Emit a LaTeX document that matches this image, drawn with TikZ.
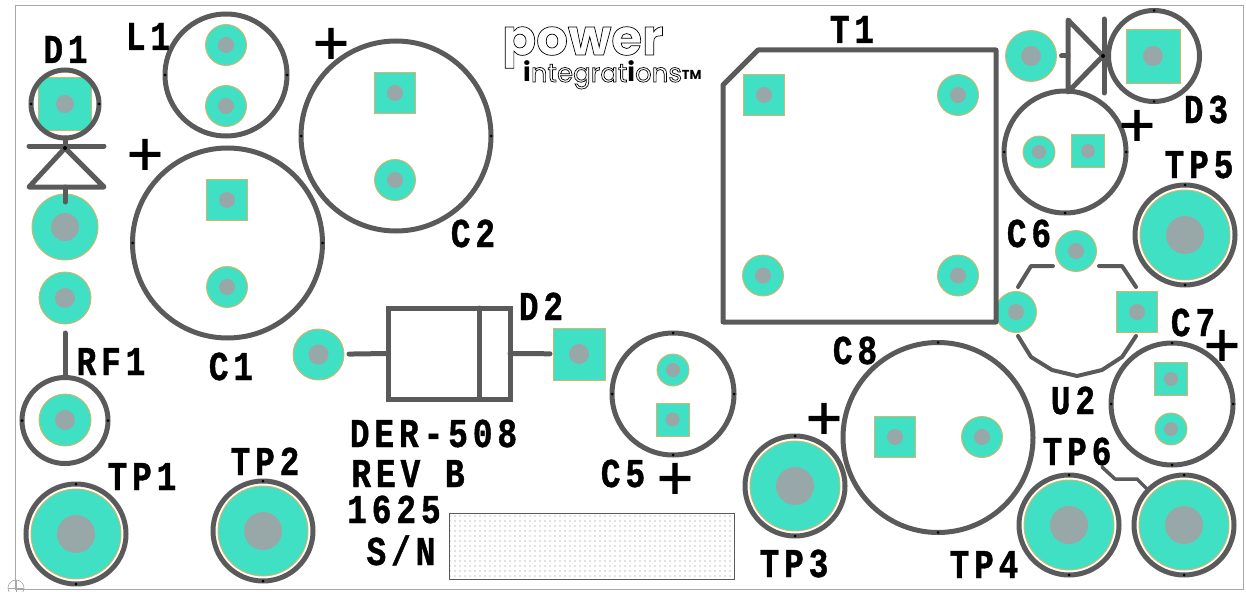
\documentclass[tikz,border=0pt]{standalone}
\usepackage{fontspec}
\usetikzlibrary{patterns.meta}
\newfontfamily\silkfont[FakeStretch=0.8,LetterSpace=12,BoldFont={Liberation Mono Bold},BoldFeatures={FakeBold=1}]{Liberation Mono}
\newfontfamily\plusfont[FakeBold=1.3]{Liberation Sans}
\newfontfamily\logofont{Poppins}
\definecolor{padfill}{HTML}{40E0C4}
\definecolor{padedge}{HTML}{D8B468}
\definecolor{drillgray}{HTML}{98A8A8}
\definecolor{outline}{HTML}{5A5A5A}
\definecolor{boardedge}{HTML}{A8A8A8}
\newcommand{\logoword}[1]{\special{pdf:code 1 Tr 0.7 w}#1\special{pdf:code 0 Tr}}

\begin{document}
\begin{tikzpicture}[x=1pt,y=-1pt]
  \tikzstyle{pad}=[fill=padfill,draw=padedge,line width=0.9pt,inner sep=0pt,outer sep=0pt]
  \tikzstyle{roundpad}=[pad,circle,minimum size=#1]
  \tikzstyle{squarepad}=[pad,rectangle,minimum size=#1]
  \tikzstyle{drill}=[path picture={\fill[drillgray] (path picture bounding box.center) circle (#1);}]
  \tikzstyle{body}=[circle,draw=outline,line width=5pt,inner sep=0pt,outer sep=0pt,minimum size=#1]
  \tikzstyle{testpoint}=[body=100pt,path picture={
      \filldraw[fill=padfill,draw=padedge,line width=0.9pt] (path picture bounding box.center) circle (45pt);
      \fill[drillgray] (path picture bounding box.center) circle (19pt);}]
  \tikzstyle{wire}=[draw=outline,line width=5pt,line cap=round,line join=round]
  \tikzstyle{silk}=[anchor=base,inner sep=0pt,text=black,font=\silkfont\bfseries\fontsize{41}{41}\selectfont]
  \tikzstyle{plusmark}=[anchor=base,inner sep=0pt,text=black,font=\plusfont\fontsize{62}{62}\selectfont]
  \useasboundingbox (0,0) rectangle (1246,591);

  % board edge and origin mark
  \node[draw=boardedge,line width=1pt,inner sep=0pt,minimum width=1228pt,minimum height=583pt] (Board) at (629,297.5) {};
  \node[circle,draw=boardedge,line width=0.6pt,inner sep=0pt,outer sep=0pt,minimum size=16pt] (Origin) at (16,588) {};
  \path[draw=boardedge,line width=0.6pt] (Origin.north) edge (Origin.south) (Origin.west) edge (Origin.east);

  % pad that the body of D1 runs over
  \node[squarepad=53pt,rounded corners=8pt,drill=9pt] (D1a) at (65,104)  {};

  % component bodies
  \node[body=68pt] (D1)  at (65,104)  {};
  \node[body=86pt] (RF1) at (65,420.5) {};
  \node[body=122pt] (L1) at (226,75)  {};
  \node[body=190pt] (C1) at (227.5,243) {};
  \node[body=190pt] (C2) at (396,136) {};
  \node[body=122pt] (C5) at (673,394) {};
  \node[body=122pt] (C6) at (1065,152) {};
  \node[body=122pt] (C7) at (1172,404) {};
  \node[body=190pt] (C8) at (938,437.5) {};
  \node[body=91pt]  (D3) at (1154,56) {};
  \node[draw=outline,line width=5pt,inner sep=0pt,outer sep=0pt,minimum width=122pt,minimum height=91pt] (D2) at (449,353.5) {};

  % test points
  \node[testpoint] (TP1) at (76,534)   {};
  \node[testpoint] (TP2) at (263,531)  {};
  \node[testpoint] (TP3) at (795,486)  {};
  \node[testpoint] (TP4) at (1069,525) {};
  \node[testpoint] (TP5) at (1185,235) {};
  \node[testpoint] (TP6) at (1184,525) {};

  % pads
  \node[roundpad=66pt,drill=14pt]  (D1b)  at (65,227)  {};
  \node[roundpad=52pt,drill=10pt]  (RF1a) at (65,298)  {};
  \node[roundpad=52pt,drill=10pt]  (RF1b) at (65,420)  {};
  \node[roundpad=41pt,drill=8pt]   (L1a)  at (226,45)  {};
  \node[roundpad=41pt,drill=8pt]   (L1b)  at (226,106) {};
  \node[squarepad=41pt,drill=8pt]  (C1a)  at (227,200) {};
  \node[roundpad=41pt,drill=8pt]   (C1b)  at (227,287) {};
  \node[squarepad=41pt,drill=8pt]  (C2a)  at (395,93)  {};
  \node[roundpad=41pt,drill=8pt]   (C2b)  at (395,180) {};
  \node[roundpad=51pt,drill=10pt]  (D2a)  at (318.5,354.5) {};
  \node[squarepad=52pt,drill=10pt] (D2b)  at (579,354) {};
  \node[roundpad=32pt,drill=7pt]   (C5a)  at (673,370) {};
  \node[squarepad=33pt,drill=7pt]  (C5b)  at (672.5,419.5) {};
  \node[squarepad=41pt,drill=8pt]  (T1a)  at (764,95)  {};
  \node[roundpad=41pt,drill=8pt]   (T1b)  at (958,95)  {};
  \node[roundpad=41pt,drill=8pt]   (T1c)  at (763,275.5) {};
  \node[roundpad=41pt,drill=8pt]   (T1d)  at (958,275.5) {};
  \node[roundpad=51pt,drill=10pt]  (D3a)  at (1031,56) {};
  \node[squarepad=54pt,drill=10pt] (D3b)  at (1153,56) {};
  \node[roundpad=32pt,drill=7pt]   (C6a)  at (1039,152) {};
  \node[squarepad=33pt,drill=7pt]  (C6b)  at (1088,151) {};
  \node[roundpad=41pt,drill=8pt]   (U2a)  at (1076,251) {};
  \node[roundpad=41pt,drill=8pt]   (U2b)  at (1016,312) {};
  \node[squarepad=41pt,drill=8pt]  (U2c)  at (1137,312) {};
  \node[squarepad=33pt,drill=7pt]  (C7a)  at (1171,379) {};
  \node[roundpad=32pt,drill=7pt]   (C7b)  at (1171,429) {};
  \node[squarepad=41pt,drill=8pt]  (C8a)  at (895,437) {};
  \node[roundpad=41pt,drill=8pt]   (C8b)  at (982,437) {};

  % diode symbols
  \coordinate (D1apex) at (65,148);
  \coordinate (D1barl) at (29,146);
  \coordinate (D1barr) at (104,146);
  \coordinate (D1basel) at (29,187);
  \coordinate (D1baser) at (104,187);
  \coordinate (D1stem) at (65,187);
  \coordinate (D3apex) at (1103,56);
  \coordinate (D3baset) at (1068,20);
  \coordinate (D3baseb) at (1068,92);
  \coordinate (D3bart) at (1104,19);
  \coordinate (D3barb) at (1104,93);
  \coordinate (D3stem) at (1068,56);
  \draw[wire] (D1basel) -- (D1baser) -- (D1apex) -- cycle;
  \draw[wire] (D3baset) -- (D3baseb) -- (D3apex) -- cycle;
  \coordinate (D2bandt) at (479,308);
  \coordinate (D2bandb) at (479,399);
  \coordinate (TP6a) at (1102,467);
  \coordinate (TP6b) at (1115,479);
  \coordinate (TP6c) at (1137,479);
  \coordinate (TP6d) at (1147,489);

  \path[wire] (D1.south)  edge (D1apex)
        (D1barl)    edge (D1barr)
        (D1stem)    edge [shorten >=25pt] (D1b.center)
        (RF1a)      edge [shorten <=9pt] (RF1.north)
        (D2a)       edge [shorten <=5pt] (D2.west)
        (D2.east)   edge [shorten >=3pt] (D2b)
        (D2bandt)   edge (D2bandb)
        (D3stem)    edge [shorten >=5pt] (D3a.east)
        (D3bart)    edge (D3barb);

  % outlines that are not closed nodes
  \draw[wire] (758,50) -- (996,50) -- (996,322) -- (723,322) -- (723,85) -- cycle;
  \draw[wire,line width=4pt] (1018,287) -- (1031,266) -- (1053,266);
  \draw[wire,line width=4pt] (1099,266) -- (1122,266) -- (1136,287);
  \draw[wire,line width=4pt] (1018,336) -- (1031,357) -- (1052,370) -- (1077,376) -- (1102,370) -- (1122,357) -- (1136,336);
  \draw[wire,line width=3.5pt] (TP6a) -- (TP6b) -- (TP6c) -- (TP6d);

  % vertex marks on the bodies
  \foreach \name in {D1,RF1,L1,C1,C2,C5,C6,C7}
    \fill[black] (\name.west) circle (1.5pt) (\name.east) circle (1.5pt);
  \foreach \name in {C5,C7,C8,D3,TP1,TP2,TP3,TP4,TP5,TP6}
    \fill[black] (\name.north) circle (1.5pt) (\name.south) circle (1.5pt);
  \fill[black] (C6.south) circle (1.5pt) (D1apex) circle (2pt) (D3apex) circle (2pt);

  % serial number box
  \node[draw=outline,line width=0.9pt,inner sep=0pt,minimum width=285pt,minimum height=66pt,
        pattern={Dots[distance=5pt,radius=0.7pt]},pattern color=gray] (SerialBox) at (591.5,546) {};

  % silkscreen text
  \node[silk] (LabelD1)  at (65.5,63) {D1};
  \node[silk] (LabelL1)  at (148,50)  {L1};
  \node[silk] (LabelC1)  at (231,380) {C1};
  \node[silk] (LabelC2)  at (473,247) {C2};
  \node[silk] (LabelRF1) at (111,375) {RF1};
  \node[silk] (LabelTP1) at (142,490) {TP1};
  \node[silk] (LabelTP2) at (265,475) {TP2};
  \node[silk] (LabelDer) at (433.5,447) {DER-508};
  \node[silk] (LabelRev) at (408,487) {REV B};
  \node[silk] (LabelDate) at (394,523) {1625};
  \node[silk] (LabelSN)  at (401,565) {S/N};
  \node[silk] (LabelD2)  at (541,320) {D2};
  \node[silk] (LabelC5)  at (623,487) {C5};
  \node[silk] (LabelTP3) at (794,577) {TP3};
  \node[silk] (LabelT1)  at (852,43)  {T1};
  \node[silk] (LabelD3)  at (1206,123) {D3};
  \node[silk] (LabelTP5) at (1199,178) {TP5};
  \node[silk] (LabelC6)  at (1029,247) {C6};
  \node[silk] (LabelC8)  at (855,364) {C8};
  \node[silk] (LabelC7)  at (1193,336) {C7};
  \node[silk] (LabelU2)  at (1073,414) {U2};
  \node[silk] (LabelTP6) at (1077,465) {TP6};
  \node[silk] (LabelTP4) at (984,578) {TP4};

  \node[plusmark] (PlusC2) at (331,64)   {+};
  \node[plusmark] (PlusC1) at (145,175)  {+};
  \node[plusmark] (PlusC5) at (675,499)  {+};
  \node[plusmark] (PlusC6) at (1137,146) {+};
  \node[plusmark] (PlusC8) at (824,439)  {+};
  \node[plusmark] (PlusC7) at (1222,366) {+};

  % logo
  \node[anchor=base west,inner sep=0pt,font=\logofont\bfseries\fontsize{50}{50}\selectfont] (LogoPower) at (502,55) {\logoword{power}};
  \node[anchor=base west,inner sep=0pt,font=\logofont\fontsize{26}{26}\selectfont] (LogoInt) at (523,82)
    {\bfseries i\mdseries\logoword{ntegrat}\bfseries i\mdseries\logoword{ons}{\bfseries\fontsize{13}{13}\selectfont\raisebox{2pt}{TM}}};
\end{tikzpicture}
\end{document}
